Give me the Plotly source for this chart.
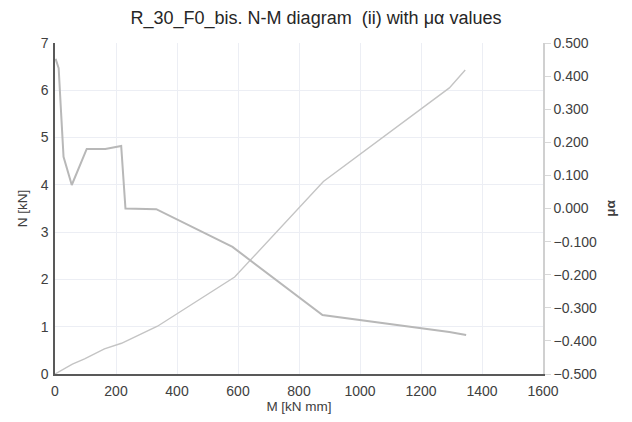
import plotly.graph_objects as go

# N-M curve (left axis)
M_nm = [0, 57, 97, 162, 218, 336, 589, 880, 1293, 1345]
N_nm = [0, 0.21, 0.32, 0.53, 0.65, 1.01, 2.05, 4.07, 6.05, 6.43]

# mu-alpha curve (right axis)
M_mu = [2, 12, 20, 28, 55, 104, 165, 217, 231, 332, 582, 877, 1293, 1348]
mu_alpha = [0.452, 0.424, 0.289, 0.156, 0.071, 0.180, 0.180, 0.189, 0.0, -0.002, -0.116, -0.322, -0.373, -0.382]

x_ticks = [0, 200, 400, 600, 800, 1000, 1200, 1400, 1600]
y_ticks = [0, 1, 2, 3, 4, 5, 6, 7]
y2_ticks = [-0.5, -0.4, -0.3, -0.2, -0.1, 0.0, 0.1, 0.2, 0.3, 0.4, 0.5]

fig = go.Figure()
fig.add_trace(go.Scatter(x=M_nm, y=N_nm, mode="lines",
                         line=dict(color="#c4c4c4", width=1.4), showlegend=False))
fig.add_trace(go.Scatter(x=M_mu, y=mu_alpha, mode="lines", yaxis="y2",
                         line=dict(color="#b8b8b8", width=2), showlegend=False))

FAM = "Liberation Sans, Arial, sans-serif"
font_tick = dict(family=FAM, size=14, color="#404040")

fig.update_layout(
    width=632, height=422,
    margin=dict(l=55, r=89, t=43, b=48),
    paper_bgcolor="white", plot_bgcolor="white",
    title=dict(text="R_30_F0_bis. N-M diagram&nbsp; (ii) with μα values",
               x=0.5, xanchor="center", y=0.958, yanchor="middle",
               font=dict(family=FAM, size=18, color="#262626")),
    xaxis=dict(range=[0, 1600], tickvals=x_ticks, showgrid=True, gridcolor="#eceef4",
               zeroline=False, showline=True, linecolor="#595959", linewidth=1.5,
               ticks="outside", ticklen=3, tickcolor="rgba(0,0,0,0)", tickfont=font_tick,
               title=dict(text="M [kN mm]", standoff=2,
                          font=dict(family=FAM, size=13.5, color="#404040"))),
    yaxis=dict(range=[0, 7], tickvals=y_ticks, showgrid=True, gridcolor="#eceef4",
               zeroline=False, showline=True, linecolor="#595959", linewidth=1.5,
               ticks="outside", ticklen=2, tickcolor="rgba(0,0,0,0)", tickfont=font_tick,
               title=dict(text="N [kN]", standoff=10,
                          font=dict(family=FAM, size=13.5, color="#404040"))),
    yaxis2=dict(range=[-0.5, 0.5], tickvals=y2_ticks, tickformat=".3f", overlaying="y", side="right",
                showgrid=False, zeroline=False, showline=True, linecolor="#d0d0d0", linewidth=1.5,
                ticks="outside", ticklen=6, tickcolor="#d8d8d8", tickfont=font_tick,
                title=dict(text="<b>μα</b>", standoff=10,
                           font=dict(family=FAM, size=13.5, color="#404040"))),
)

fig.write_html("out.html")
